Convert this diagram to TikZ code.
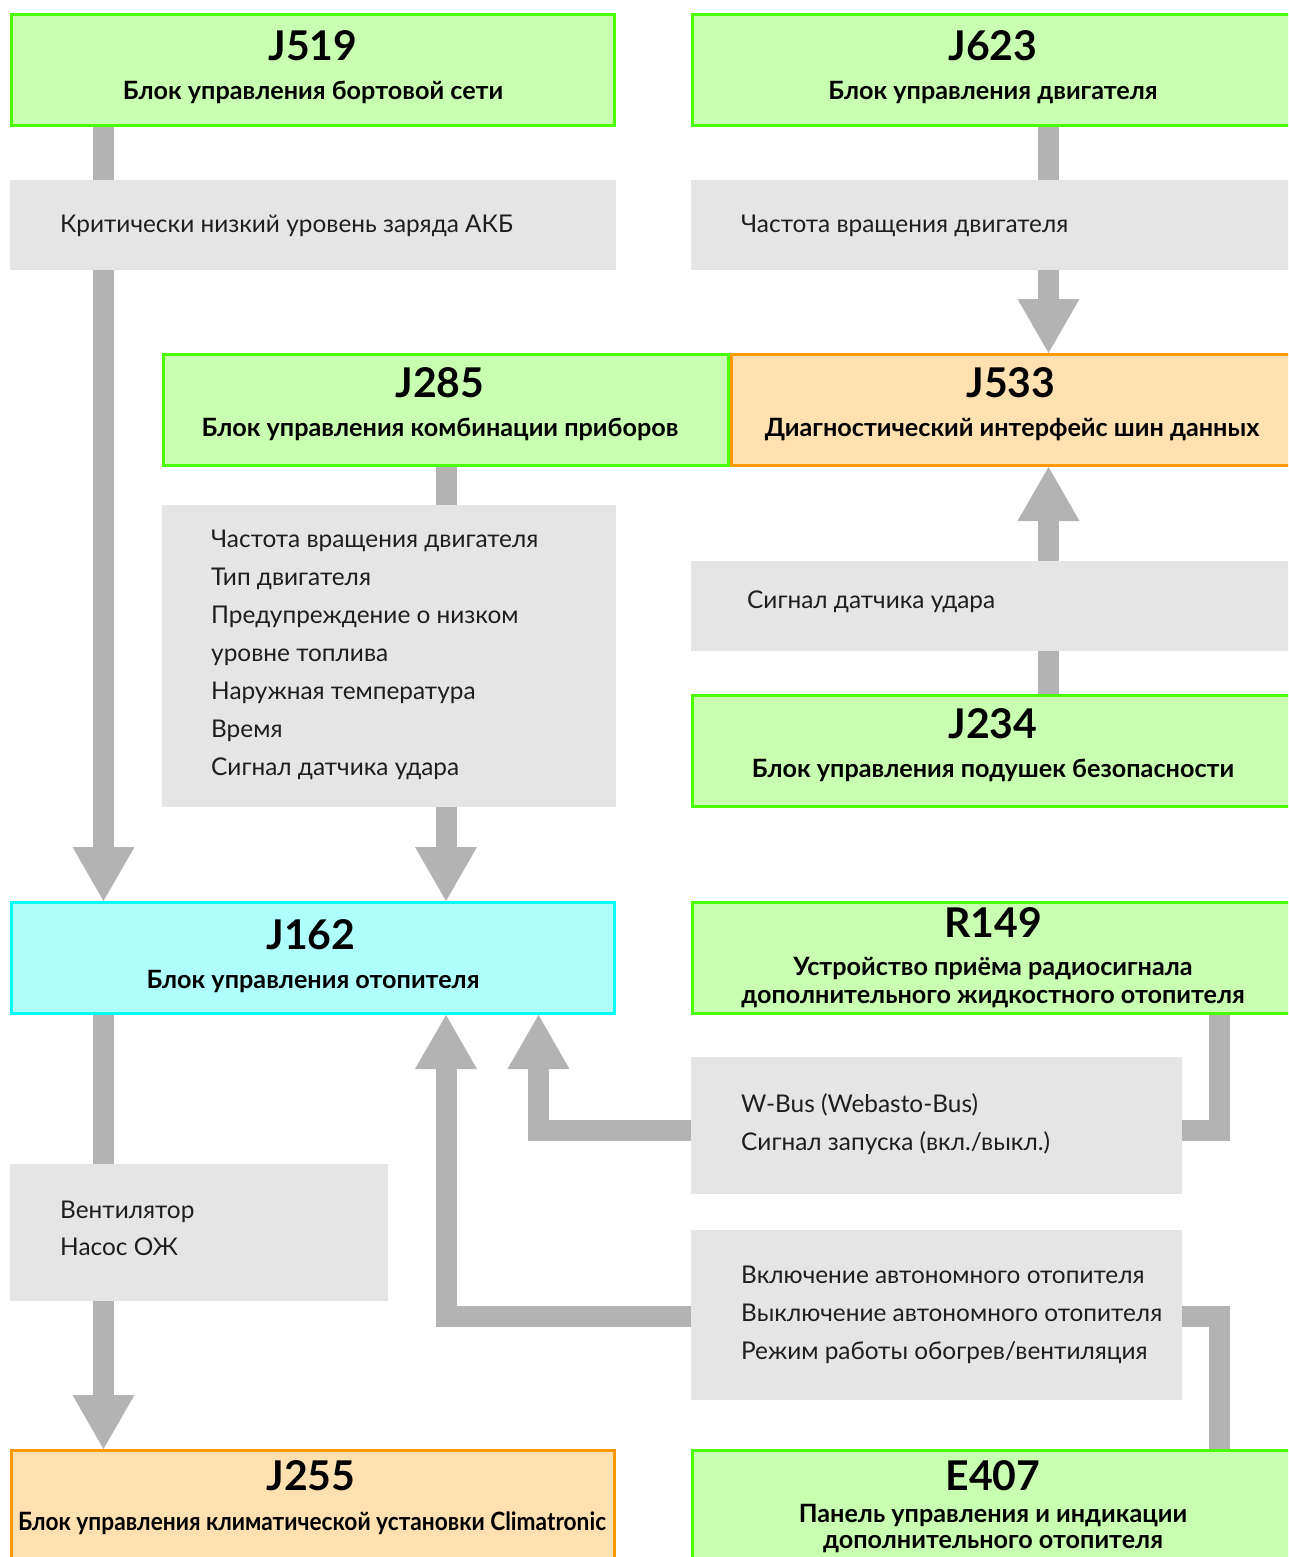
\documentclass[tikz,border=0pt]{standalone}
\usepackage{fontspec}
\setmainfont{Lato}
\usetikzlibrary{arrows.meta}
\definecolor{gbord}{RGB}{76,255,0}
\definecolor{gfill}{RGB}{200,255,176}
\definecolor{obord}{RGB}{255,153,0}
\definecolor{ofill}{RGB}{255,224,176}
\definecolor{cbord}{RGB}{0,255,255}
\definecolor{cfill}{RGB}{176,255,255}
\definecolor{boxgray}{RGB}{229,229,229}
\definecolor{conngray}{RGB}{179,179,179}
\definecolor{txtgray}{RGB}{30,30,30}
\tikzset{
  ecu/.style={draw, line width=3pt, inner sep=0pt, minimum height=111pt},
  greenbox/.style={ecu, draw=gbord, fill=gfill},
  orangebox/.style={ecu, draw=obord, fill=ofill},
  cyanbox/.style={ecu, draw=cbord, fill=cfill},
  infobox/.style={fill=boxgray, draw=none, inner sep=0pt},
  conn/.style={draw=conngray, line width=21pt, line join=miter},
  arr/.style={conn, -{Triangle[width=62pt,length=54pt,line width=0pt]}},
  ttl/.style={anchor=base, inner sep=0pt, font=\fontsize{41}{41}\selectfont\bfseries},
  sub/.style={anchor=base, inner sep=0pt, font=\fontsize{25.2}{29}\selectfont\bfseries},
  lt/.style={anchor=base west, inner sep=0pt, text=txtgray, font=\fontsize{24.4}{38}\selectfont}
}
\begin{document}
\begin{tikzpicture}[x=1pt,y=-1pt]
\clip (0,0) rectangle (1288,1557);
\fill[white] (0,0) rectangle (1288,1557);
% ECU boxes
\node[greenbox, minimum width=603pt] (j519) at (313,70) {};
\node[greenbox, minimum width=602pt] (j623) at (993.5,70) {};
\node[orangebox, minimum width=560pt] (j533) at (1011.5,410) {};
\node[greenbox, minimum width=565pt] (j285) at (446,410) {};
\node[greenbox, minimum width=602pt] (j234) at (993.5,750.5) {};
\node[cyanbox, minimum width=603pt] (j162) at (313,958) {};
\node[greenbox, minimum width=602pt] (r149) at (993.5,958) {};
\node[orangebox, minimum width=603pt] (j255) at (313,1506) {};
\node[greenbox, minimum width=602pt] (e407) at (993.5,1506) {};
% connectors
\draw[arr] ([xshift=93.5pt]j519.south west) -- ([xshift=93.5pt]j162.north west);
\draw[arr] ([xshift=357.5pt]j623.south west) -- ([xshift=357.5pt]j623.south west |- j533.north);
\draw[arr] (j285.south) -- (j285.south |- j162.north);
\draw[arr] ([xshift=357.5pt]j234.north west) -- ([xshift=357.5pt]j234.north west |- j533.south);
\draw[arr] ([xshift=93.5pt]j162.south west) -- ([xshift=93.5pt]j255.north west);
\draw[arr] ([xshift=528.5pt]r149.south west) -- ++(0,115) -| ([xshift=528.5pt]j162.south west);
\draw[arr] ([xshift=528.5pt]e407.north west) -- ++(0,-132.5) -| (j285.south |- j162.south);
% info boxes
\node[infobox, minimum width=606pt, minimum height=90pt] (g1) at (313,225) {};
\node[infobox, minimum width=605pt, minimum height=90pt] (g2) at (993.5,225) {};
\node[infobox, minimum width=454pt, minimum height=302pt] (g3) at (389,656) {};
\node[infobox, minimum width=605pt, minimum height=90pt] (g4) at (993.5,606) {};
\node[infobox, minimum width=378pt, minimum height=137pt] (g5) at (199,1232.5) {};
\node[infobox, minimum width=491pt, minimum height=137pt] (g6) at (936.5,1125.5) {};
\node[infobox, minimum width=491pt, minimum height=170pt] (g7) at (936.5,1315) {};
% titles
\node[ttl] (t519) at (313,61) {J519};
\node[sub] (s519) at (313,100) {Блок управления бортовой сети};
\node[ttl] (t623) at (993,61) {J623};
\node[sub] (s623) at (993,100) {Блок управления двигателя};
\node[ttl] (t285) at (440,397) {J285};
\node[sub] (s285) at (440,436) {Блок управления комбинации приборов};
\node[ttl] (t533) at (1011,397) {J533};
\node[sub] (s533) at (1012,436) {Диагностический интерфейс шин данных};
\node[ttl] (t234) at (993,738) {J234};
\node[sub] (s234) at (993,777) {Блок управления подушек безопасности};
\node[ttl] (t162) at (311,949) {J162};
\node[sub] (s162) at (313,988) {Блок управления отопителя};
\node[ttl] (t149) at (993,937) {R149};
\node[sub] (s149a) at (993,975) {Устройство приёма радиосигнала};
\node[sub] (s149b) at (993,1003) {дополнительного жидкостного отопителя};
\node[ttl] (t255) at (311,1490) {J255};
\node[sub] (s255) at (312,1530) {\scalebox{0.9}[1]{Блок управления климатической установки Climatronic}};
\node[ttl] (t407) at (993,1490) {E407};
\node[sub] (s407a) at (993,1522) {Панель управления и индикации};
\node[sub] (s407b) at (993,1548) {дополнительного отопителя};
% info texts
\node[lt] (l1) at (60,232) {Критически низкий уровень заряда АКБ};
\node[lt] (l2) at (741,232) {Частота вращения двигателя};
\node[lt] (l3a) at (211,547) {Частота вращения двигателя};
\node[lt] (l3b) at (211,585) {Тип двигателя};
\node[lt] (l3c) at (211,623) {Предупреждение о низком};
\node[lt] (l3d) at (211,661) {уровне топлива};
\node[lt] (l3e) at (211,699) {Наружная температура};
\node[lt] (l3f) at (211,737) {Время};
\node[lt] (l3g) at (211,775) {Сигнал датчика удара};
\node[lt] (l4) at (747,608) {Сигнал датчика удара};
\node[lt] (l5a) at (60,1218) {Вентилятор};
\node[lt] (l5b) at (60,1255) {Насос ОЖ};
\node[lt] (l6a) at (741,1112) {W-Bus (Webasto-Bus)};
\node[lt] (l6b) at (741,1150) {Сигнал запуска (вкл./выкл.)};
\node[lt] (l7a) at (741,1283) {Включение автономного отопителя};
\node[lt] (l7b) at (741,1321) {Выключение автономного отопителя};
\node[lt] (l7c) at (741,1359) {Режим работы обогрев/вентиляция};
\end{tikzpicture}
\end{document}
